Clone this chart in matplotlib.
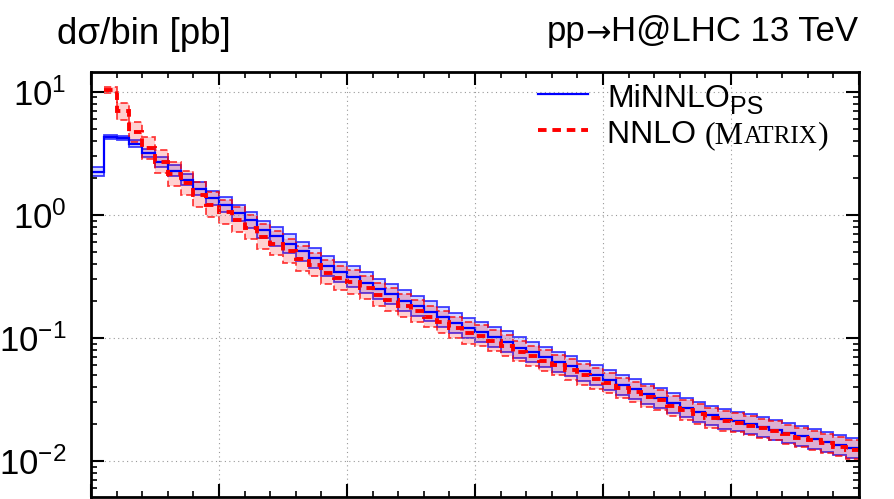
import numpy as np
import matplotlib
matplotlib.use("Agg")
import matplotlib.pyplot as plt
from matplotlib.lines import Line2D
from matplotlib.ticker import MultipleLocator, LogLocator, NullFormatter

plt.rcParams['font.family'] = ['Liberation Sans', 'DejaVu Sans']
plt.rcParams['mathtext.fontset'] = 'custom'
plt.rcParams['mathtext.rm'] = 'Liberation Sans'

# Higgs pT, 5 GeV bins from 0 to 300 GeV
bin_edges = np.arange(0, 301, 5)

# MiNNLO_PS: central value and relative scale uncertainty (up / down)
minnlo = [2.25, 4.28, 4.20, 3.78, 3.17, 2.68, 2.28, 1.93, 1.63, 1.37,
          1.21, 1.04, 0.91, 0.76, 0.67, 0.58, 0.505, 0.445, 0.385, 0.345,
          0.315, 0.282, 0.250, 0.226, 0.201, 0.182, 0.164, 0.147, 0.133, 0.120,
          0.112, 0.102, 0.0933, 0.0834, 0.0764, 0.0701, 0.0641, 0.0592, 0.0540, 0.0500,
          0.0456, 0.0414, 0.0383, 0.0351, 0.0327, 0.0295, 0.0272, 0.0252, 0.0235, 0.0220,
          0.0210, 0.0200, 0.0190, 0.0180, 0.0170, 0.0160, 0.0152, 0.0143, 0.0135, 0.0127]
minnlo_up = [0.08, 0.04, 0.04, 0.08, 0.08, 0.10, 0.11, 0.12, 0.13, 0.14,
             0.15, 0.16, 0.17, 0.18, 0.19, 0.20, 0.20, 0.21, 0.21, 0.21,
             0.21, 0.21, 0.21, 0.21, 0.21, 0.21, 0.21, 0.21, 0.21, 0.21,
             0.21, 0.21, 0.21, 0.21, 0.21, 0.21, 0.21, 0.21, 0.21, 0.21,
             0.21, 0.21, 0.21, 0.21, 0.20, 0.20, 0.20, 0.20, 0.20, 0.20,
             0.20, 0.20, 0.20, 0.20, 0.20, 0.20, 0.20, 0.20, 0.20, 0.20]
minnlo_dn = [0.08, 0.04, 0.04, 0.06, 0.07, 0.08, 0.09, 0.10, 0.11, 0.12,
             0.13, 0.14, 0.14, 0.15, 0.16, 0.16, 0.17, 0.17, 0.17, 0.17,
             0.17, 0.17, 0.17, 0.17, 0.17, 0.17, 0.17, 0.17, 0.17, 0.17,
             0.17, 0.17, 0.17, 0.17, 0.17, 0.17, 0.17, 0.17, 0.17, 0.17,
             0.17, 0.17, 0.17, 0.17, 0.17, 0.17, 0.17, 0.17, 0.17, 0.17,
             0.17, 0.17, 0.17, 0.17, 0.17, 0.17, 0.17, 0.17, 0.17, 0.17]

# NNLO (MATRIX): first bin not available
nnlo = [np.nan, 10.4, 7.0, 4.75, 3.5, 2.68, 2.14, 1.80, 1.45, 1.21,
        1.05, 0.905, 0.79, 0.66, 0.585, 0.505, 0.44, 0.39, 0.34, 0.305,
        0.283, 0.254, 0.225, 0.204, 0.182, 0.165, 0.149, 0.134, 0.121, 0.109,
        0.104, 0.0948, 0.0868, 0.0776, 0.0711, 0.0652, 0.0598, 0.0552, 0.0504, 0.0467,
        0.0433, 0.0393, 0.0364, 0.0334, 0.0311, 0.0281, 0.0259, 0.0240, 0.0224, 0.0210,
        0.0204, 0.0194, 0.0184, 0.0175, 0.0165, 0.0155, 0.0147, 0.0139, 0.0131, 0.0123]
nnlo_up = [np.nan, 0.06, 0.15, 0.20, 0.22, 0.25, 0.26, 0.27, 0.27, 0.27,
           0.27, 0.27, 0.27, 0.27, 0.27, 0.26, 0.26, 0.26, 0.26, 0.26,
           0.25, 0.25, 0.25, 0.24, 0.24, 0.24, 0.23, 0.23, 0.23, 0.23,
           0.22, 0.22, 0.22, 0.22, 0.22, 0.22, 0.22, 0.22, 0.22, 0.22,
           0.21, 0.21, 0.21, 0.21, 0.21, 0.21, 0.21, 0.21, 0.21, 0.21,
           0.20, 0.20, 0.20, 0.20, 0.20, 0.20, 0.20, 0.20, 0.20, 0.20]
nnlo_dn = [np.nan, 0.05, 0.15, 0.17, 0.18, 0.19, 0.19, 0.20, 0.20, 0.20,
           0.20, 0.20, 0.20, 0.20, 0.20, 0.20, 0.20, 0.19, 0.19, 0.19,
           0.19, 0.19, 0.19, 0.19, 0.18, 0.18, 0.18, 0.18, 0.18, 0.18,
           0.18, 0.18, 0.18, 0.17, 0.17, 0.17, 0.17, 0.17, 0.17, 0.17,
           0.17, 0.17, 0.17, 0.17, 0.17, 0.17, 0.17, 0.17, 0.17, 0.17,
           0.16, 0.16, 0.16, 0.16, 0.16, 0.16, 0.16, 0.16, 0.16, 0.16]

W, H = 894, 499
fig = plt.figure(figsize=(W / 100, H / 100), dpi=100)
ax = fig.add_axes([91 / W, 2 / H, 768 / W, 425 / H])


def draw_histo(vals, up, dn, color, fill_alpha, edge_kw):
    vals = np.asarray(vals, float)
    first = np.argmax(~np.isnan(vals))
    v = vals[first:]
    e = bin_edges[first:]
    hi = v * (1 + np.asarray(up, float)[first:])
    lo = v * (1 - np.asarray(dn, float)[first:])
    ax.stairs(hi, e, baseline=lo, fill=True, color=color, alpha=fill_alpha, lw=0)
    ax.stairs(hi, e, baseline=None, color=color, **edge_kw)
    ax.stairs(lo, e, baseline=None, color=color, **edge_kw)
    return v, e


b_v, b_e = draw_histo(minnlo, minnlo_up, minnlo_dn, '#0000ff', 0.16,
                      dict(lw=1.3, alpha=0.75))
r_v, r_e = draw_histo(nnlo, nnlo_up, nnlo_dn, '#ff0000', 0.18,
                      dict(lw=1.3, alpha=0.75, ls=(0, (4, 2))))
ax.stairs(b_v, b_e, baseline=None, color='#0000ff', lw=1.6)
ax.stairs(r_v, r_e, baseline=None, color='#ff0000', lw=2.8, ls=(0, (2.2, 1.5)))

ax.set_yscale('log')
ax.set_ylim(0.0051, 14.5)
ax.set_xlim(0, 300)
ax.xaxis.set_major_locator(MultipleLocator(50))
ax.xaxis.set_minor_locator(MultipleLocator(10))
ax.yaxis.set_major_locator(LogLocator(base=10))
ax.yaxis.set_minor_locator(LogLocator(base=10, subs=np.arange(2, 10)))
ax.yaxis.set_minor_formatter(NullFormatter())

ax.tick_params(which='both', direction='in', top=True, right=True,
               labelbottom=False, color='black')
ax.tick_params(which='major', length=9.5, width=1.5, labelsize=25, pad=17.5)
ax.tick_params(which='minor', length=4.5, width=1.2)
for s in ax.spines.values():
    s.set_linewidth(2)

ax.grid(True, which='major', ls=(0, (1, 3)), color='#999999', lw=0.8)


def fx(px):
    return px / W


def fy(py):
    return 1 - py / H


renderer = fig.canvas.get_renderer()


def chain(x, y, pieces):
    # left to right, each piece starts where the previous one ended
    for s, size, fam, dy in pieces:
        t = fig.text(x, y - dy / H, s, fontsize=size, family=fam, va='baseline', ha='left')
        x = t.get_window_extent(renderer).x1 / W


def chain_right(x, y, pieces):
    # right to left, pieces given in reading order
    for s, size, fam, dy in reversed(pieces):
        t = fig.text(x, y - dy / H, s, fontsize=size, family=fam, va='baseline', ha='right')
        x = t.get_window_extent(renderer).x0 / W


chain(fx(57), fy(44), [('dσ/bin [pb]', 26.5, 'Liberation Sans', 0)])
chain_right(fx(858), fy(41), [('pp', 25, 'Liberation Sans', 0),
                              ('→', 22, 'DejaVu Sans', 1),
                              ('H@LHC 13 TeV', 25, 'Liberation Sans', 0)])

# legend drawn by hand
fig.add_artist(Line2D([fx(538), fx(588)], [fy(94), fy(94)], color='#0000ff', lw=1.6))
fig.add_artist(Line2D([fx(538), fx(588)], [fy(130), fy(130)], color='#ff0000', lw=2.8,
                      ls=(0, (2.2, 1.5))))

chain(fx(607), fy(107), [('MiNNLO', 23, 'Liberation Sans', 0),
                         ('PS', 18, 'Liberation Sans', 6.5)])
chain(fx(607), fy(143), [('NNLO ', 23, 'Liberation Sans', 0),
                         ('(M', 23, 'Liberation Serif', 0),
                         ('ATRIX', 18, 'Liberation Serif', 0),
                         (')', 23, 'Liberation Serif', 0)])

fig.savefig('out.png', dpi=100)
